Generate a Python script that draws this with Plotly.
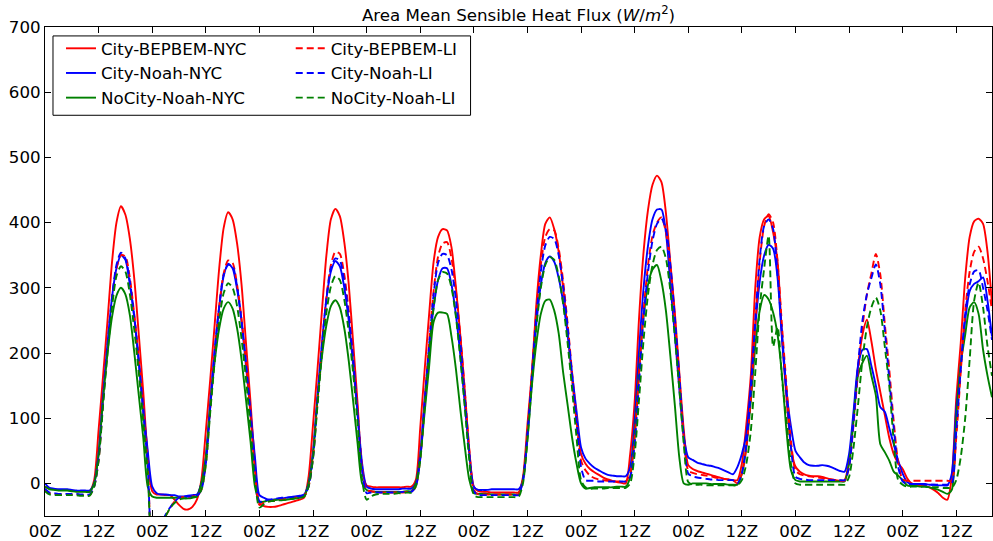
import plotly.graph_objects as go

# ---------------- data (hourly, starting 00Z) ----------------
hours = list(range(213))
tick_hours = list(range(0, 205, 12))
tick_labels = ["00Z", "12Z"] * 9
y_ticks = [0, 100, 200, 300, 400, 500, 600, 700]

city_bepbem_nyc = [
    -5, -8, -9, -10, -10, -10, -11, -12, -12, -12, -12, 5, 82, 165, 250, 339, 400, 425, 412, 375, 313, 228, 140, 42,
    -12, -17, -17, -18, -18, -25, -33, -39, -40, -36, -25, 5, 80, 160, 245, 330, 392, 416, 405, 368, 305, 215, 125, 30,
    -30, -35, -36, -36, -35, -33, -31, -29, -27, -25, -22, 10, 90, 175, 265, 350, 405, 421, 410, 370, 305, 215, 120, 20,
    -3, -5, -6, -6, -6, -6, -6, -6, -6, -5, -5, 5, 85, 175, 260, 340, 378, 390, 388, 362, 300, 225, 140, 50,
    -5, -12, -13, -13, -14, -14, -14, -14, -14, -14, -14, 10, 90, 170, 275, 350, 398, 408, 390, 355, 300, 235, 160, 95,
    45, 30, 22, 17, 13, 9, 6, 4, 2, 1, 0, 45, 125, 255, 355, 420, 458, 472, 462, 415, 338, 262, 170, 82,
    28, 22, 19, 17, 15, 13, 11, 9, 7, 6, 5, 5, 30, 90, 165, 300, 378, 405, 410, 385, 340, 225, 130, 55,
    26, 18, 14, 12, 11, 11, 10, 8, 6, 5, 4, 5, 35, 100, 178, 228, 251, 218, 175, 140, 105, 70, 45, 31,
    22, 8, 0, -2, -3, -4, -6, -10, -15, -22, -25, 10, 130, 215, 315, 378, 402, 406, 398, 355, 275,
]
city_noah_nyc = [
    0, -7, -8, -9, -9, -9, -10, -11, -11, -11, -11, 0, 45, 135, 215, 285, 330, 350, 343, 305, 253, 185, 115, 50,
    -5, -15, -17, -17, -18, -18, -20, -20, -19, -18, -17, 0, 40, 125, 205, 270, 318, 337, 330, 298, 248, 180, 110, 40,
    -18, -22, -25, -25, -24, -23, -22, -21, -20, -19, -17, 0, 48, 135, 215, 283, 325, 341, 333, 300, 250, 180, 105, 30,
    -5, -8, -9, -9, -9, -9, -9, -9, -8, -8, -8, 0, 45, 130, 208, 270, 312, 330, 330, 305, 258, 195, 120, 45,
    -5, -10, -10, -10, -9, -9, -9, -9, -9, -9, -9, 5, 75, 160, 245, 305, 338, 348, 340, 315, 278, 228, 168, 110,
    55, 38, 30, 24, 20, 16, 13, 12, 11, 11, 11, 25, 95, 205, 300, 365, 405, 420, 420, 385, 305, 228, 145, 72,
    40, 36, 32, 30, 28, 27, 25, 23, 20, 17, 14, 25, 45, 75, 150, 240, 310, 350, 366, 360, 315, 220, 140, 87,
    50, 40, 32, 28, 27, 27, 28, 27, 25, 22, 19, 18, 45, 110, 180, 205, 206, 180, 150, 117, 110, 85, 60, 35,
    15, 2, -1, -1, -1, -1, -2, -2, -3, -3, -3, 15, 115, 180, 250, 295, 306, 310, 316, 280, 225,
]
nocity_noah_nyc = [
    -5, -9, -10, -11, -11, -11, -12, -13, -13, -13, -13, 0, 45, 130, 200, 255, 288, 300, 290, 258, 200, 135, 70, -5,
    -20, -22, -22, -22, -22, -22, -22, -23, -23, -22, -20, 0, 40, 120, 188, 238, 268, 278, 268, 238, 190, 128, 65, -5,
    -28, -28, -26, -26, -25, -25, -25, -24, -23, -22, -20, 0, 45, 128, 195, 243, 272, 281, 270, 238, 188, 125, 60, 0,
    -10, -12, -13, -13, -13, -13, -13, -13, -13, -12, -12, 0, 40, 110, 180, 248, 262, 262, 260, 225, 175, 112, 55, 5,
    -15, -16, -16, -16, -17, -17, -17, -17, -17, -17, -17, 5, 70, 150, 215, 260, 280, 282, 265, 230, 170, 120, 70, 30,
    0, -8, -7, -6, -6, -6, -6, -6, -5, -5, -5, 10, 75, 175, 255, 305, 328, 335, 310, 265, 195, 120, 40, 0,
    -2, 0, 0, 0, 0, -1, -1, -1, -1, -2, -2, -2, 15, 55, 125, 210, 265, 289, 282, 262, 228, 165, 80, 20,
    5, 3, 3, 3, 3, 3, 3, 3, 3, 3, 3, 3, 30, 95, 165, 185, 196, 165, 135, 60, 48, 35, 18, 12,
    5, -3, -4, -4, -5, -5, -6, -8, -10, -13, -16, -10, 100, 183, 228, 270, 278, 260, 205, 165, 132,
]
city_bepbem_li = [
    -10, -15, -16, -17, -17, -17, -17, -17, -18, -18, -18, -5, 35, 125, 210, 282, 330, 350, 348, 315, 258, 190, 110, 30,
    -95, -80, -62, -50, -38, -28, -22, -21, -21, -20, -19, -10, 30, 115, 200, 272, 322, 342, 338, 305, 252, 185, 105, 20,
    -33, -30, -28, -27, -26, -25, -24, -23, -22, -21, -19, -5, 40, 125, 210, 285, 335, 355, 352, 320, 265, 195, 110, 25,
    -10, -12, -13, -14, -14, -14, -14, -14, -14, -13, -13, -5, 38, 125, 215, 295, 348, 368, 370, 345, 295, 225, 140, 50,
    -10, -17, -17, -17, -17, -17, -17, -17, -17, -17, -17, 5, 75, 170, 265, 335, 378, 390, 388, 360, 310, 245, 170, 100,
    35, 20, 12, 8, 6, 5, 4, 3, 3, 3, 3, 15, 70, 170, 265, 335, 380, 400, 408, 385, 330, 250, 160, 70,
    20, 16, 14, 13, 12, 11, 9, 8, 7, 6, 5, 0, 15, 55, 130, 240, 340, 395, 413, 400, 340, 240, 150, 65,
    20, 14, 12, 11, 10, 9, 8, 7, 6, 5, 4, 4, 25, 90, 170, 240, 290, 322, 352, 320, 245, 175, 95, 32,
    6, 4, 4, 4, 4, 4, 4, 4, 4, 4, 4, 4, 70, 170, 265, 325, 355, 363, 345, 310, 265,
]
city_noah_li = [
    -8, -14, -15, -16, -16, -16, -16, -16, -17, -17, -17, -5, 38, 128, 212, 285, 335, 354, 345, 310, 255, 188, 108, 28,
    -95, -80, -62, -48, -37, -28, -22, -21, -20, -20, -19, -10, 30, 118, 203, 272, 320, 335, 333, 302, 250, 183, 103, 18,
    -28, -26, -25, -24, -23, -22, -22, -21, -21, -20, -18, -5, 40, 127, 212, 283, 330, 345, 342, 310, 258, 190, 105, 20,
    -15, -14, -14, -14, -14, -14, -14, -14, -13, -13, -13, -5, 38, 125, 212, 290, 338, 352, 350, 328, 282, 215, 132, 45,
    -12, -18, -18, -18, -18, -18, -18, -18, -18, -18, -18, 5, 72, 165, 258, 325, 365, 378, 375, 350, 302, 240, 165, 95,
    25, 5, 4, 4, 3, 3, 3, 3, 3, 3, 3, 10, 60, 155, 255, 325, 372, 398, 406, 390, 335, 255, 165, 72,
    15, 11, 9, 8, 7, 6, 6, 5, 5, 5, 5, 0, 15, 60, 140, 250, 345, 395, 405, 390, 320, 230, 140, 55,
    10, 7, 6, 5, 5, 5, 5, 5, 5, 5, 5, 5, 25, 95, 180, 250, 290, 315, 336, 305, 235, 160, 85, 25,
    3, -1, -1, -1, -1, -2, -2, -2, -2, -2, -2, 0, 80, 175, 260, 305, 325, 327, 300, 265, 220,
]
nocity_noah_li = [
    -12, -17, -18, -18, -18, -18, -18, -18, -19, -19, -19, -5, 35, 120, 200, 270, 318, 333, 325, 290, 235, 170, 95, 15,
    -95, -80, -62, -50, -38, -30, -25, -23, -22, -21, -20, -10, 28, 110, 188, 250, 292, 307, 300, 272, 222, 160, 85, 5,
    -37, -32, -28, -27, -26, -26, -25, -24, -23, -22, -20, -5, 38, 120, 198, 262, 302, 318, 312, 282, 232, 168, 90, 5,
    -25, -20, -17, -16, -16, -16, -16, -15, -15, -14, -14, -5, 35, 118, 200, 270, 312, 324, 322, 300, 255, 190, 115, 35,
    -18, -21, -21, -21, -21, -21, -21, -21, -21, -21, -21, 0, 65, 155, 240, 300, 335, 347, 343, 318, 275, 215, 145, 70,
    5, -6, -8, -8, -8, -8, -7, -7, -7, -7, -7, 0, 45, 130, 220, 290, 335, 358, 363, 345, 295, 225, 145, 60,
    2, -2, -2, -2, -3, -3, -3, -3, -3, -3, -3, -3, 5, 30, 80, 170, 270, 330, 380, 210, 240, 160, 95, 30,
    0, -2, -2, -2, -2, -2, -2, -2, -2, -2, -2, -2, 10, 55, 120, 190, 240, 270, 285, 265, 210, 150, 65, 5,
    -2, -5, -5, -5, -5, -5, -6, -6, -6, -7, -7, -7, 5, 40, 100, 190, 280, 308, 270, 210, 165,
]

series = [
    ("City-BEPBEM-NYC", city_bepbem_nyc, "#ff0000", "solid", "legend"),
    ("City-Noah-NYC", city_noah_nyc, "#0000ff", "solid", "legend"),
    ("NoCity-Noah-NYC", nocity_noah_nyc, "#008000", "solid", "legend"),
    ("City-BEPBEM-LI", city_bepbem_li, "#ff0000", "7px,4px", "legend2"),
    ("City-Noah-LI", city_noah_li, "#0000ff", "7px,4px", "legend2"),
    ("NoCity-Noah-LI", nocity_noah_li, "#008000", "7px,4px", "legend2"),
]

fig = go.Figure()
for name, vals, color, dash, leg in series:
    fig.add_trace(go.Scatter(
        x=hours[:len(vals)], y=vals, mode="lines", name=name,
        line=dict(color=color, width=1.9, dash=dash, shape="spline", smoothing=0.7),
        legend=leg,
    ))

FONT = "DejaVu Sans"
FS = 16.67
W, H = 993, 541
ML, MR, MT, MB = 45, 0, 27, 21
pw, ph = W - ML - MR, H - MT - MB

def px(x):
    return (x - ML) / pw

def py(y):
    return (H - MB - y) / ph

axis_common = dict(
    showline=True, linecolor="black", linewidth=1, mirror="ticks",
    ticks="inside", ticklen=6, tickwidth=1, tickcolor="black",
    showgrid=False, zeroline=False,
    tickfont=dict(family=FONT, size=FS, color="black"),
)

legend_common = dict(
    xanchor="left", yanchor="top", orientation="v",
    bgcolor="rgba(0,0,0,0)", borderwidth=0,
    font=dict(family=FONT, size=FS, color="black"),
    itemwidth=30, tracegroupgap=0,
)

fig.update_layout(
    width=W, height=H,
    margin=dict(l=ML, r=MR, t=MT, b=MB, pad=0),
    paper_bgcolor="white", plot_bgcolor="white",
    font=dict(family=FONT, size=FS, color="black"),
    title=dict(
        text="Area Mean Sensible Heat Flux (<i>W</i>/<i>m</i><sup>2</sup>)",
        x=0.5, xref="paper", xanchor="center",
        y=1 - 15 / H, yref="container", yanchor="middle",
        font=dict(family=FONT, size=FS, color="black"),
    ),
    xaxis=dict(range=[0, 212], tickvals=tick_hours, ticktext=tick_labels, **axis_common),
    yaxis=dict(range=[-50, 700], tickvals=y_ticks, **axis_common),
    showlegend=True,
    legend=dict(x=px(61), y=py(31), **legend_common),
    legend2=dict(x=px(291), y=py(31), **legend_common),
    shapes=[dict(
        type="rect", xref="paper", yref="paper",
        x0=px(53), x1=px(471), y0=py(116), y1=py(36),
        line=dict(color="black", width=1), fillcolor="white", layer="above",
    )],
)

fig.write_html("out.html")
